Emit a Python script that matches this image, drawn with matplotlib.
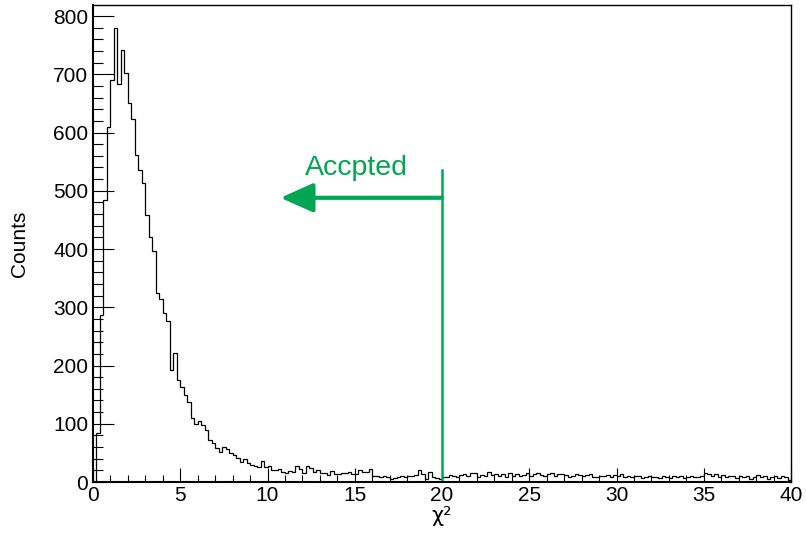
import numpy as np
import matplotlib
matplotlib.use('Agg')
import matplotlib.pyplot as plt
from matplotlib.ticker import MultipleLocator

plt.rcParams['font.family'] = ['Liberation Sans', 'DejaVu Sans']

# ---- Histogram data: 200 bins of width 0.2 from 0 to 40 ----
x_min, x_max, n_bins = 0.0, 40.0, 200
counts = [
    # 0 - 5
    0, 84, 287, 484, 610, 690, 779, 684, 742, 703,
    650, 624, 561, 536, 514, 458, 421, 397, 325, 315,
    290, 276, 193, 221, 175,
    # 5 - 10
    163, 149, 138, 110, 100, 104, 98, 90, 72, 67,
    58, 52, 60, 57, 49, 47, 41, 35, 39, 33,
    30, 27, 26, 36, 25,
    # 10 - 15
    27, 21, 20, 22, 18, 15, 19, 17, 27, 22,
    15, 27, 24, 18, 20, 15, 16, 12, 19, 14,
    13, 16, 15, 17, 14,
    # 15 - 20
    13, 20, 18, 17, 23, 11, 11, 9, 10, 8,
    5, 7, 9, 10, 9, 11, 10, 12, 20, 13,
    5, 17, 9, 7, 5,
    # 20 - 25
    9, 8, 12, 10, 9, 12, 14, 10, 15, 15,
    8, 12, 10, 17, 12, 14, 10, 13, 9, 16,
    11, 14, 10, 12, 15,
    # 25 - 30
    11, 13, 16, 12, 10, 13, 15, 11, 13, 14,
    12, 9, 11, 13, 12, 10, 12, 14, 9, 8,
    11, 10, 12, 8, 12,
    # 30 - 35
    10, 13, 9, 11, 8, 11, 10, 7, 9, 10,
    8, 9, 7, 10, 9, 7, 10, 8, 11, 7,
    9, 10, 8, 9, 11,
    # 35 - 40
    15, 13, 11, 14, 9, 12, 8, 11, 10, 7,
    10, 8, 11, 6, 9, 12, 8, 10, 5, 9,
    11, 7, 10, 8, 4,
]

# ---- Cut annotation ----
cut_value = 20.0
cut_line_top = 535
arrow_y = 488
arrow_tip = 10.75
label_text = 'Accpted'
label_pos = (12.15, 527)

green = '#00a651'

edges = np.linspace(x_min, x_max, n_bins + 1)

fig = plt.figure(figsize=(8.06, 5.41), dpi=100)
ax = fig.add_axes([93 / 806, 59 / 541, 698 / 806, 477 / 541])

ax.stairs(counts, edges, color='black', linewidth=0.9, baseline=0)

# vertical cut line and arrow
ax.plot([cut_value, cut_value], [0, cut_line_top], color=green, linewidth=1.8)
ax.annotate('', xy=(arrow_tip, arrow_y), xytext=(cut_value, arrow_y),
            arrowprops=dict(arrowstyle='-|>,head_length=1.0,head_width=0.45',
                            color=green, linewidth=3.0, mutation_scale=20,
                            shrinkA=0, shrinkB=0))
ax.text(label_pos[0], label_pos[1], label_text, color=green, fontsize=20.5,
        ha='left', va='baseline')

# ---- Axes style (ROOT-like) ----
ax.set_xlim(x_min, x_max)
ax.set_ylim(0, 819)

ax.xaxis.set_major_locator(MultipleLocator(5))
ax.xaxis.set_minor_locator(MultipleLocator(1))
ax.yaxis.set_major_locator(MultipleLocator(100))
ax.yaxis.set_minor_locator(MultipleLocator(20))

ax.tick_params(axis='both', which='both', direction='in', top=False, right=False,
               labelsize=15, width=0.8, colors='black')
ax.tick_params(axis='y', which='major', length=15, pad=3.5)
ax.tick_params(axis='y', which='minor', length=7.5)
ax.tick_params(axis='x', which='major', length=10, pad=3)
ax.tick_params(axis='x', which='minor', length=5)

for side in ['left', 'bottom']:
    ax.spines[side].set_linewidth(1.5)
for side in ['top', 'right']:
    ax.spines[side].set_linewidth(1.0)

# greek chi taken from DejaVu Sans (has the descending tail like ROOT's Symbol font)
ax.set_xlabel('χ²', fontsize=15, family=['DejaVu Sans'])
ax.set_ylabel('Counts', fontsize=15)
ax.xaxis.set_label_coords(0.5, -0.05)
ax.xaxis.label.set_va('top')
ax.yaxis.set_label_coords(-0.092, 0.5)

plt.savefig('out.png', dpi=100)
plt.close()
